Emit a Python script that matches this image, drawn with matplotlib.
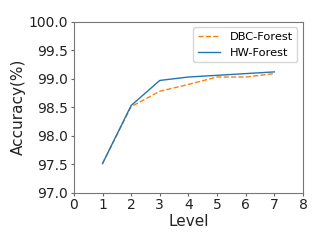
import matplotlib
matplotlib.use("Agg")
import matplotlib.pyplot as plt

levels = [1, 2, 3, 4, 5, 6, 7]
dbc_forest = [97.51, 98.51, 98.78, 98.90, 99.03, 99.03, 99.09]
hw_forest = [97.51, 98.53, 98.97, 99.03, 99.06, 99.09, 99.12]

fig, ax = plt.subplots(figsize=(3.24, 2.42), dpi=100)
ax.plot(levels, dbc_forest, '--', color='#ff7f0e', linewidth=1, label='DBC-Forest')
ax.plot(levels, hw_forest, '-', color='#1f77b4', linewidth=1, label='HW-Forest')
ax.set_xlim(0, 8)
ax.set_ylim(97.0, 100.0)
ax.set_xticks(range(0, 9))
ax.set_yticks([97.0, 97.5, 98.0, 98.5, 99.0, 99.5, 100.0])
ax.tick_params(labelsize=10, color='#666666', labelcolor='#222222', length=2.5, pad=1.5)
for s in ax.spines.values():
    s.set_color('#777777')
ax.set_xlabel('Level', fontsize=11, color='#222222', labelpad=1)
ax.set_ylabel('Accuracy(%)', fontsize=11, color='#222222', labelpad=2)
ax.legend(fontsize=8.2, loc='upper right')
fig.subplots_adjust(left=0.228, right=0.935, top=0.91, bottom=0.204)
fig.savefig('out.png', dpi=100)
